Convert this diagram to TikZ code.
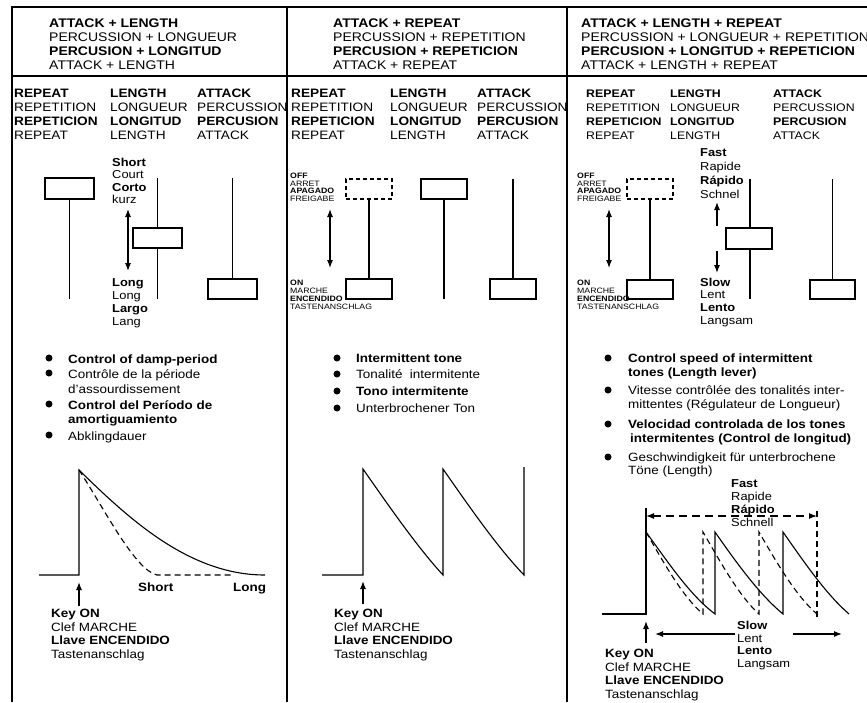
\documentclass[tikz,border=0pt]{standalone}
\usepackage{fontspec}
\setmainfont{Liberation Sans}[FakeStretch=1.12]
\usetikzlibrary{arrows.meta}
\newcommand\stk[2]{\vtop{\baselineskip=#1\lineskiplimit=-20pt\lineskip=0pt\halign{##\hfil\cr#2\crcr}}}
\tikzset{
 frm/.style={line width=1.3pt},
 hd/.style={anchor=base west, inner sep=0pt, font=\fontsize{12.5}{14}\selectfont},
 sub/.style={anchor=base west, inner sep=0pt, font=\fontsize{12.2}{14}\selectfont},
 subn/.style={anchor=base west, inner sep=0pt, font=\fontsize{11}{14}\selectfont},
 lbl/.style={anchor=base west, inner sep=0pt, font=\fontsize{12}{13}\selectfont},
 tinyl/.style={anchor=base west, inner sep=0pt, font=\fontsize{7.8}{8}\selectfont},
 knob/.style={draw, line width=1.1pt, fill=white, inner sep=0pt},
 dknob/.style={draw, line width=1.1pt, dash pattern=on 4pt off 3pt, inner sep=0pt},
 stem/.style={line width=1.5pt},
 fatstem/.style={line width=2.4pt},
 arr/.style={-{Latex[length=8pt,width=6pt]}, line width=1.2pt},
 darr/.style={{Latex[length=8pt,width=6pt]}-{Latex[length=8pt,width=6pt]}, line width=1.1pt},
 wave/.style={line width=1.1pt},
 dwave/.style={line width=1.1pt, dash pattern=on 6pt off 4pt},
 bul/.style={circle, fill, inner sep=0pt, minimum size=7pt},
}
\begin{document}
\begin{tikzpicture}[x=1pt,y=-1pt]
\useasboundingbox (0,0) rectangle (867,702);
\fill[white] (0,0) rectangle (867,702);
% frame
\draw[frm] (12,702) -- (12,7) -- (867,7);
\draw[frm] (12,76) -- (867,76);
\draw[frm] (287,7) -- (287,702);
\draw[frm] (567,7) -- (567,702);

% headers
\node[hd] (h1) at (49,27) {\stk{14pt}{\bfseries ATTACK + LENGTH\cr PERCUSSION + LONGUEUR\cr \bfseries PERCUSION + LONGITUD\cr ATTACK + LENGTH}};
\node[hd] (h2) at (333,27) {\stk{14pt}{\bfseries ATTACK + REPEAT\cr PERCUSSION + REPETITION\cr \bfseries PERCUSION + REPETICION\cr ATTACK + REPEAT}};
\node[hd] (h3) at (581,27) {\stk{14pt}{\bfseries ATTACK + LENGTH + REPEAT\cr PERCUSSION + LONGUEUR + REPETITION\cr \bfseries PERCUSION + LONGITUD + REPETICION\cr ATTACK + LENGTH + REPEAT}};

% sub-headers
\node[sub] (s1a) at (14,97) {\stk{14.3pt}{\bfseries REPEAT\cr REPETITION\cr \bfseries REPETICION\cr REPEAT}};
\node[sub] (s1b) at (110,97) {\stk{14.3pt}{\bfseries LENGTH\cr LONGUEUR\cr \bfseries LONGITUD\cr LENGTH}};
\node[sub] (s1c) at (197,97) {\stk{14.3pt}{\bfseries ATTACK\cr PERCUSSION\cr \bfseries PERCUSION\cr ATTACK}};
\node[sub] (s2a) at (291,97) {\stk{14.3pt}{\bfseries REPEAT\cr REPETITION\cr \bfseries REPETICION\cr REPEAT}};
\node[sub] (s2b) at (390,97) {\stk{14.3pt}{\bfseries LENGTH\cr LONGUEUR\cr \bfseries LONGITUD\cr LENGTH}};
\node[sub] (s2c) at (477,97) {\stk{14.3pt}{\bfseries ATTACK\cr PERCUSSION\cr \bfseries PERCUSION\cr ATTACK}};
\node[subn] (s3a) at (586,97) {\stk{14.3pt}{\bfseries REPEAT\cr REPETITION\cr \bfseries REPETICION\cr REPEAT}};
\node[subn] (s3b) at (670,97) {\stk{14.3pt}{\bfseries LENGTH\cr LONGUEUR\cr \bfseries LONGITUD\cr LENGTH}};
\node[subn] (s3c) at (773,97) {\stk{14.3pt}{\bfseries ATTACK\cr PERCUSSION\cr \bfseries PERCUSION\cr ATTACK}};

% ---- column 1 sliders
\node[knob, minimum width=49pt, minimum height=21pt] (r1) at (69.5,188.5) {};
\coordinate (r1e) at (69.5,299);
\draw[stem] (r1.south) -- (r1e);
\coordinate (l1t) at (157.5,178); \coordinate (l1b) at (157.5,299);
\draw[stem] (l1t) -- (l1b);
\node[knob, minimum width=49pt, minimum height=20pt] (l1) at (157.5,238) {};
\node[knob, minimum width=49pt, minimum height=20pt] (a1) at (232.5,289) {};
\coordinate (a1t) at (232.5,178);
\draw[stem] (a1t) -- (a1.north);
\node[lbl, font=\fontsize{11.5}{13}\selectfont] (sh1) at (112,166) {\stk{12.5pt}{\bfseries Short\cr Court\cr \bfseries Corto\cr kurz}};
\node[lbl, font=\fontsize{11.5}{13}\selectfont] (lo1) at (112,286) {\stk{13pt}{\bfseries Long\cr Long\cr \bfseries Largo\cr Lang}};
\coordinate (da1t) at (128,209); \coordinate (da1b) at (128,271);
\draw[darr] (da1t) -- (da1b);

% ---- column 2 sliders
\node[dknob, minimum width=46pt, minimum height=20pt] (r2o) at (369,189) {};
\node[knob, minimum width=46pt, minimum height=20pt] (r2) at (369,289) {};
\draw[fatstem] (r2o.south) -- (r2.north);
\node[knob, minimum width=46pt, minimum height=20pt] (l2) at (444,189) {};
\coordinate (l2e) at (444,299);
\draw[stem] (l2.south) -- (l2e);
\node[knob, minimum width=46pt, minimum height=20pt] (a2) at (513,289) {};
\coordinate (a2t) at (513,179);
\draw[stem] (a2t) -- (a2.north);
\node[tinyl] (off2) at (290,178.5) {\stk{7.5pt}{\bfseries OFF\cr ARRET\cr \bfseries APAGADO\cr FREIGABE}};
\node[tinyl] (on2) at (290,285) {\stk{8.2pt}{\bfseries ON\cr MARCHE\cr \bfseries ENCENDIDO\cr TASTENANSCHLAG}};
\coordinate (da2t) at (330,209); \coordinate (da2b) at (330,268);
\draw[darr] (da2t) -- (da2b);

% ---- column 3 sliders
\node[dknob, minimum width=46pt, minimum height=20pt] (r3o) at (650,189) {};
\node[knob, minimum width=46pt, minimum height=19pt] (r3) at (650,289.5) {};
\draw[fatstem] (r3o.south) -- (r3.north);
\coordinate (l3t) at (750,179); \coordinate (l3b) at (750,299);
\draw[stem] (l3t) -- (l3b);
\node[knob, minimum width=46pt, minimum height=21pt] (l3) at (749,238.5) {};
\node[knob, minimum width=45pt, minimum height=19pt] (a3) at (832.5,289.5) {};
\coordinate (a3t) at (832.5,179);
\draw[stem] (a3t) -- (a3.north);
\node[tinyl] (off3) at (577,178.5) {\stk{7.5pt}{\bfseries OFF\cr ARRET\cr \bfseries APAGADO\cr FREIGABE}};
\node[tinyl] (on3) at (577,285) {\stk{8.2pt}{\bfseries ON\cr MARCHE\cr \bfseries ENCENDIDO\cr TASTENANSCHLAG}};
\coordinate (da3t) at (609,209); \coordinate (da3b) at (609,268);
\draw[darr] (da3t) -- (da3b);
\node[lbl, font=\fontsize{11.5}{13}\selectfont] (fa3) at (700,156) {\stk{14pt}{\bfseries Fast\cr Rapide\cr \bfseries Rápido\cr Schnel}};
\node[lbl, font=\fontsize{11.5}{13}\selectfont] (sl3) at (700,286) {\stk{12.7pt}{\bfseries Slow\cr Lent\cr \bfseries Lento\cr Langsam}};
\coordinate (up3a) at (717,226); \coordinate (up3b) at (717,202);
\draw[arr] (up3a) -- (up3b);
\coordinate (dn3a) at (717,251); \coordinate (dn3b) at (717,273);
\draw[arr] (dn3a) -- (dn3b);

% ---- bullets column 1
\node[bul] (b11) at (49,358) {};
\node[lbl] (t11) at (68,363) {\bfseries Control of damp-period};
\node[bul] (b12) at (49,373) {};
\node[lbl] (t12) at (68,378) {\stk{15.5pt}{Contrôle de la période\cr d’assourdissement}};
\node[bul] (b13) at (49,404) {};
\node[lbl] (t13) at (68,409) {\stk{14.5pt}{\bfseries Control del Período de\cr \bfseries amortiguamiento}};
\node[bul] (b14) at (49,435) {};
\node[lbl] (t14) at (68,440) {Abklingdauer};

% ---- bullets column 2
\node[bul] (b21) at (337,358) {};
\node[lbl] (t21) at (356,362.5) {\bfseries Intermittent tone};
\node[bul] (b22) at (337,374) {};
\node[lbl] (t22) at (356,378.5) {Tonalité\ \ intermitente};
\node[bul] (b23) at (337,391) {};
\node[lbl] (t23) at (356,395.5) {\bfseries Tono intermitente};
\node[bul] (b24) at (337,408) {};
\node[lbl] (t24) at (356,412.5) {Unterbrochener Ton};

% ---- bullets column 3
\node[bul] (b31) at (608,358) {};
\node[lbl] (t31) at (628,362.5) {\stk{14pt}{\bfseries Control speed of intermittent\cr \bfseries tones (Length lever)}};
\node[bul] (b32) at (608,390) {};
\node[lbl] (t32) at (628,394.5) {\stk{14pt}{Vitesse contrôlée des tonalités inter-\cr mittentes (Régulateur de Longueur)}};
\node[bul] (b33) at (608,424) {};
\node[lbl] (t33) at (628,428.5) {\stk{14pt}{\bfseries Velocidad controlada de los tones\cr \hspace{2pt}\bfseries intermitentes (Control de longitud)}};
\node[bul] (b34) at (608,457) {};
\node[lbl] (t34) at (628,461.5) {\stk{12.5pt}{Geschwindigkeit für unterbrochene\cr Töne (Length)}};

% ---- waveform column 1
\draw[wave] (39,575) -- (79,575) -- (79,470) .. controls (130,520) and (190,575) .. (265,575);
\draw[dwave] (79,470) .. controls (105,510) and (135,570) .. (157,575) -- (232,575);
\node[lbl] (wsh) at (138,591.5) {\bfseries Short};
\node[lbl] (wlo) at (233,591.5) {\bfseries Long};
\coordinate (k1a) at (79,606); \coordinate (k1b) at (79,582);
\draw[arr] (k1a) -- (k1b);
\node[lbl] (k1) at (51,617.5) {\stk{13.7pt}{\bfseries Key ON\cr Clef MARCHE\cr \bfseries Llave ENCENDIDO\cr Tastenanschlag}};

% ---- waveform column 2
\draw[wave] (322,575) -- (363,575) -- (363,469) .. controls (395,515) and (420,550) .. (443,575) -- (443,469) .. controls (475,515) and (500,550) .. (524,575) -- (524,467);
\coordinate (k2a) at (363,604); \coordinate (k2b) at (363,581);
\draw[arr] (k2a) -- (k2b);
\node[lbl] (k2) at (334,617.5) {\stk{13.7pt}{\bfseries Key ON\cr Clef MARCHE\cr \bfseries Llave ENCENDIDO\cr Tastenanschlag}};

% ---- waveform column 3
\draw[wave] (602,614) -- (646,614) -- (646,508);
\draw[wave] (646,532) .. controls (670,565) and (690,595) .. (715,614) -- (715,532) .. controls (738,565) and (760,595) .. (783,614) -- (783,532) .. controls (806,565) and (827,595) .. (849,614);
\draw[dwave] (646,532) .. controls (665,565) and (683,597) .. (703,614) -- (703,532) .. controls (722,565) and (740,597) .. (759,614) -- (759,532) .. controls (778,565) and (797,597) .. (817,614);
\draw[dwave] (817,617) -- (817,510);
\coordinate (fl) at (646,516); \coordinate (fr) at (817,516);
\draw[darr, dash pattern=on 8pt off 5pt] (fl) -- (fr);
\node[lbl, font=\fontsize{11.5}{13}\selectfont] (fa4) at (731,487.5) {\stk{13pt}{\bfseries Fast\cr Rapide\cr \bfseries Rápido\cr Schnell}};
\coordinate (sla) at (735,634); \coordinate (slb) at (655,634);
\draw[arr] (sla) -- (slb);
\coordinate (src) at (793,634); \coordinate (srd) at (842,634);
\draw[arr] (src) -- (srd);
\node[lbl, font=\fontsize{11.5}{13}\selectfont] (sl4) at (737,629.5) {\stk{12.7pt}{\bfseries Slow\cr Lent\cr \bfseries Lento\cr Langsam}};
\coordinate (k3a) at (646,643); \coordinate (k3b) at (646,621);
\draw[arr] (k3a) -- (k3b);
\node[lbl] (k3) at (605,657.5) {\stk{13.7pt}{\bfseries Key ON\cr Clef MARCHE\cr \bfseries Llave ENCENDIDO\cr Tastenanschlag}};
\end{tikzpicture}
\end{document}
